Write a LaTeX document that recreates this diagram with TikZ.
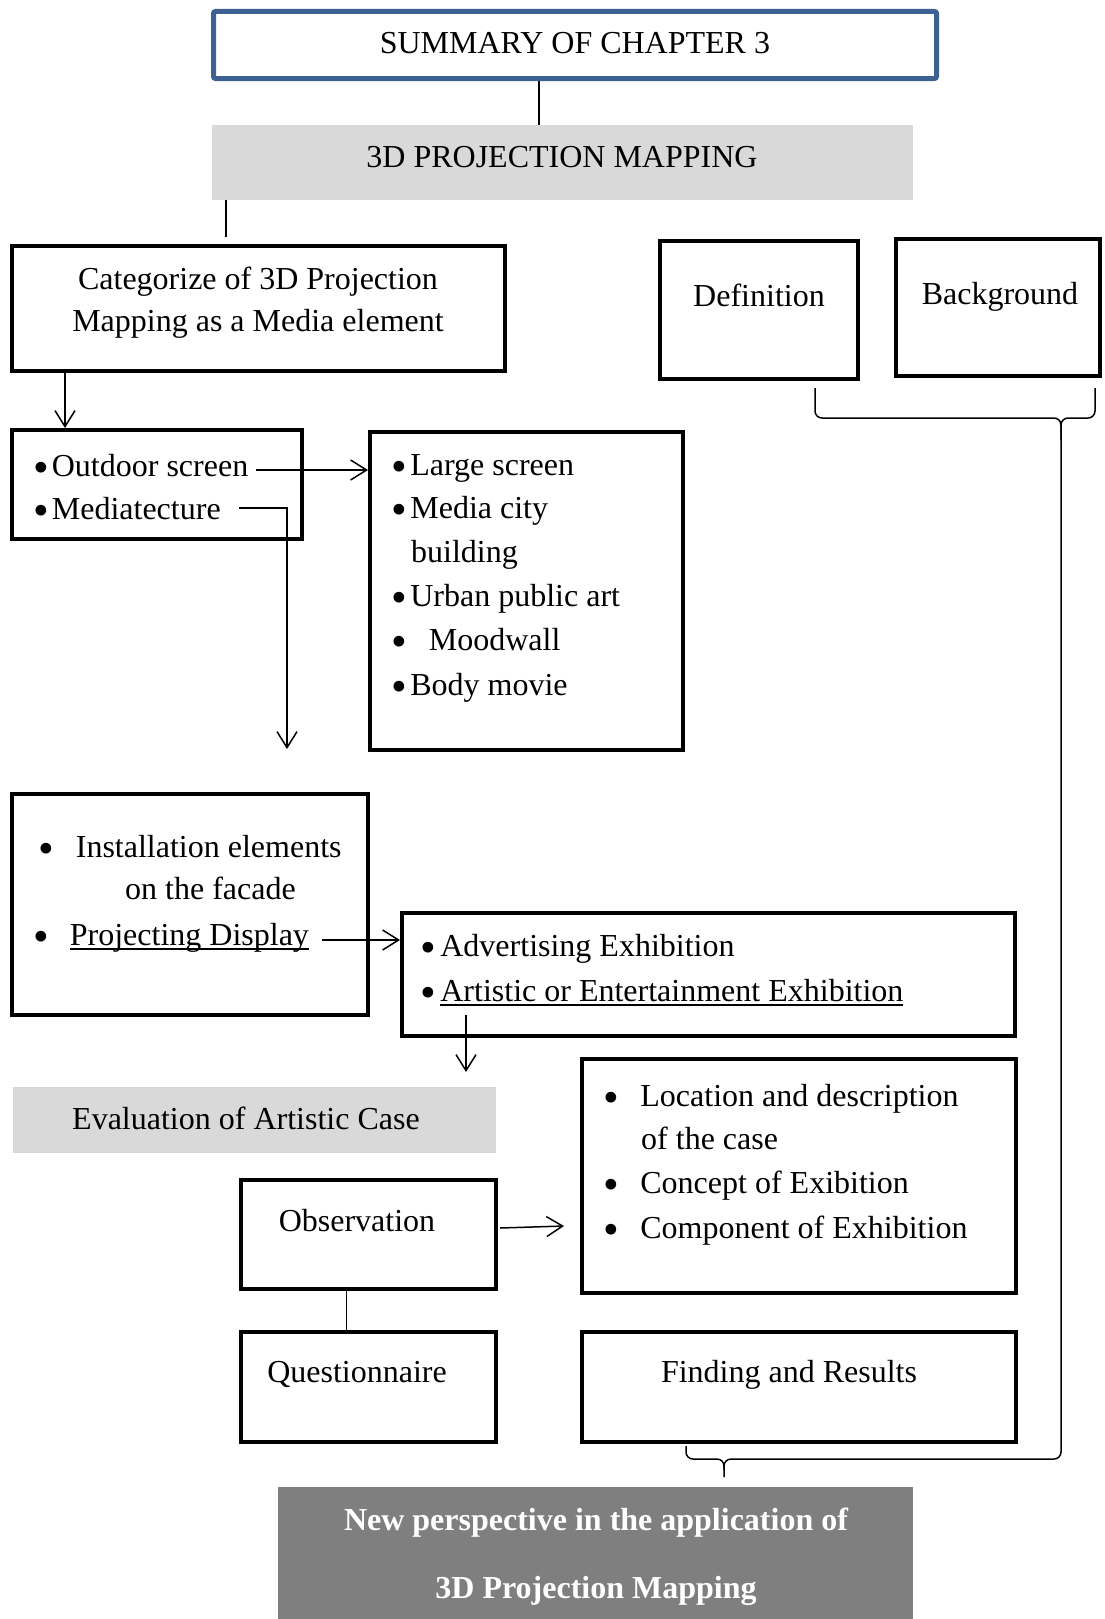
\documentclass[tikz,border=0pt]{standalone}
\usepackage{fontspec}
\setmainfont{Liberation Serif}
\usetikzlibrary{arrows.meta}

\definecolor{titleblue}{HTML}{3C6192}
\definecolor{lightfill}{HTML}{D9D9D9}
\definecolor{darkfill}{HTML}{7F7F7F}

% underline drawn through the descenders, word-processor style
\newsavebox\ulinebox
\newcommand\wordline[1]{\sbox\ulinebox{#1}\rlap{\rule[-4.5pt]{\wd\ulinebox}{1.5pt}}\usebox\ulinebox}
% enlarged list bullet
\newcommand\bigdot{\raisebox{-0.2em}{\scalebox{1.4}{\textbullet}}}

\begin{document}
\begin{tikzpicture}[x=1pt,y=-1pt,
  font=\fontsize{32}{40}\selectfont,
  frame/.style={draw,line width=4pt,inner sep=0pt},
  band/.style={inner sep=0pt},
  txt/.style={inner sep=0pt,anchor=base west},
  ctxt/.style={inner sep=0pt,anchor=base},
  conn/.style={line width=1.5pt},
  arr/.style={conn,-{Straight Barb[length=16pt,width=20pt]}},
]
\useasboundingbox (0,0) rectangle (1104,1619);

% ---- boxes ----
\node[frame,draw=titleblue,line width=5pt,rounded corners=2pt,minimum width=723pt,minimum height=67pt] (top) at (575,45) {};
\node[band,fill=lightfill,minimum width=701pt,minimum height=75pt] (proj) at (562.5,162.5) {};
\node[frame,minimum width=493pt,minimum height=125pt] (cat) at (258.5,308.5) {};
\node[frame,minimum width=198pt,minimum height=138pt] (def) at (759,310) {};
\node[frame,minimum width=204pt,minimum height=137pt] (bg) at (998,307.5) {};
\node[frame,minimum width=290pt,minimum height=109pt] (out) at (157,484.5) {};
\node[frame,minimum width=313pt,minimum height=318pt] (large) at (526.5,591) {};
\node[frame,minimum width=356pt,minimum height=221pt] (inst) at (190,904.5) {};
\node[frame,minimum width=613pt,minimum height=123pt] (adv) at (708.5,974.5) {};
\node[band,fill=lightfill,minimum width=483pt,minimum height=66pt] (eval) at (254.5,1120) {};
\node[frame,minimum width=434pt,minimum height=234pt] (loc) at (799,1176) {};
\node[frame,minimum width=255pt,minimum height=109pt] (obs) at (368.5,1234.5) {};
\node[frame,minimum width=255pt,minimum height=110pt] (que) at (368.5,1387) {};
\node[frame,minimum width=434pt,minimum height=110pt] (fin) at (799,1387) {};
\node[band,fill=darkfill,minimum width=635pt,minimum height=132pt] (newp) at (595.5,1553) {};

% ---- texts ----
\node[ctxt] (t-top) at (575,53) {SUMMARY OF CHAPTER 3};
\node[ctxt] (t-proj) at (562,167) {3D PROJECTION MAPPING};
\node[ctxt] (t-cat1) at (258,289) {Categorize of 3D Projection};
\node[ctxt] (t-cat2) at (258,331) {Mapping as a Media element};
\node[ctxt] (t-def) at (759,306) {Definition};
\node[ctxt] (t-bg) at (1000,304) {Background};

\node[txt] (t-out1) at (33,476) {\bigdot\hspace{3pt}Outdoor screen};
\node[txt] (t-out2) at (33,519) {\bigdot\hspace{3pt}Mediatecture};

\node[txt] (t-l1) at (391,475) {\bigdot\hspace{3.5pt}Large screen};
\node[txt] (t-l2) at (391,518) {\bigdot\hspace{3.5pt}Media city};
\node[txt] (t-l3) at (411,562) {building};
\node[txt] (t-l4) at (391,606) {\bigdot\hspace{3.5pt}Urban public art};
\node[txt] (t-l5) at (391,650) {\bigdot\hspace{22pt}Moodwall};
\node[txt] (t-l6) at (391,695) {\bigdot\hspace{3.5pt}Body movie};

\node[txt] (t-i1) at (38,857) {\bigdot\hspace{22pt}Installation elements};
\node[txt] (t-i2) at (125,899) {on the facade};
\node[txt] (t-i3) at (33,945) {\bigdot\hspace{21pt}\wordline{Projecting Display}};

\node[txt] (t-a1) at (420,956) {\bigdot\hspace{4.5pt}Advertising Exhibition};
\node[txt] (t-a2) at (420,1001) {\bigdot\hspace{4.5pt}\wordline{Artistic or Entertainment Exhibition}};

\node[txt] (t-ev) at (72,1129) {Evaluation of Artistic Case};

\node[txt] (t-c1) at (603,1106) {\bigdot\hspace{21.5pt}Location and description};
\node[txt] (t-c2) at (641,1149) {of the case};
\node[txt] (t-c3) at (603,1193) {\bigdot\hspace{21.5pt}Concept of Exibition};
\node[txt] (t-c4) at (603,1238) {\bigdot\hspace{21.5pt}Component of Exhibition};

\node[ctxt] (t-obs) at (357,1231) {Observation};
\node[ctxt] (t-que) at (357,1382) {Questionnaire};
\node[ctxt] (t-fin) at (789,1382) {Finding and Results};

\node[ctxt,text=white,font=\fontsize{32}{40}\selectfont\bfseries] (t-n1) at (596,1530) {New perspective in the application of};
\node[ctxt,text=white,font=\fontsize{32}{40}\selectfont\bfseries] (t-n2) at (596,1598) {3D Projection Mapping};

% ---- connectors ----
\draw[conn] ([xshift=-36pt]top.south) -- ([xshift=-36pt]top.south |- proj.north);
\draw[conn,shorten >=7pt] ([xshift=14pt]proj.south west) -- ([xshift=14pt]proj.south west |- cat.north);
\draw[arr] ([xshift=55pt]cat.south west) -- ([xshift=55pt]cat.south west |- out.north);

\coordinate (oe) at (256,470);
\draw[arr] (oe) -- (oe -| large.west);

\coordinate (me) at (239,508);
\coordinate (mt) at (287,749);
\draw[arr] (me) -| (mt);

\coordinate (pe) at (322,940);
\draw[arr] (pe) -- (pe -| adv.west);

\coordinate (ae) at (466,1015);
\coordinate (at) at (466,1072);
\draw[arr] (ae) -- (at);

\coordinate (oa) at (500,1228);
\coordinate (ob) at (564,1226);
\draw[arr] (oa) -- (ob);

\draw[conn] ([xshift=-22pt]obs.south) -- ([xshift=-22pt]obs.south |- que.north);

% ---- braces ----
\draw[conn,rounded corners=7pt] (815,388) |- (1061,418) |- (724,1459) -- (724,1477);
\draw[conn,rounded corners=7pt] (1095,388) |- (1061,418) -- (1061,440);
\draw[conn,rounded corners=7pt] (686,1446) |- (724,1459) -- (724,1470);
\end{tikzpicture}
\end{document}
